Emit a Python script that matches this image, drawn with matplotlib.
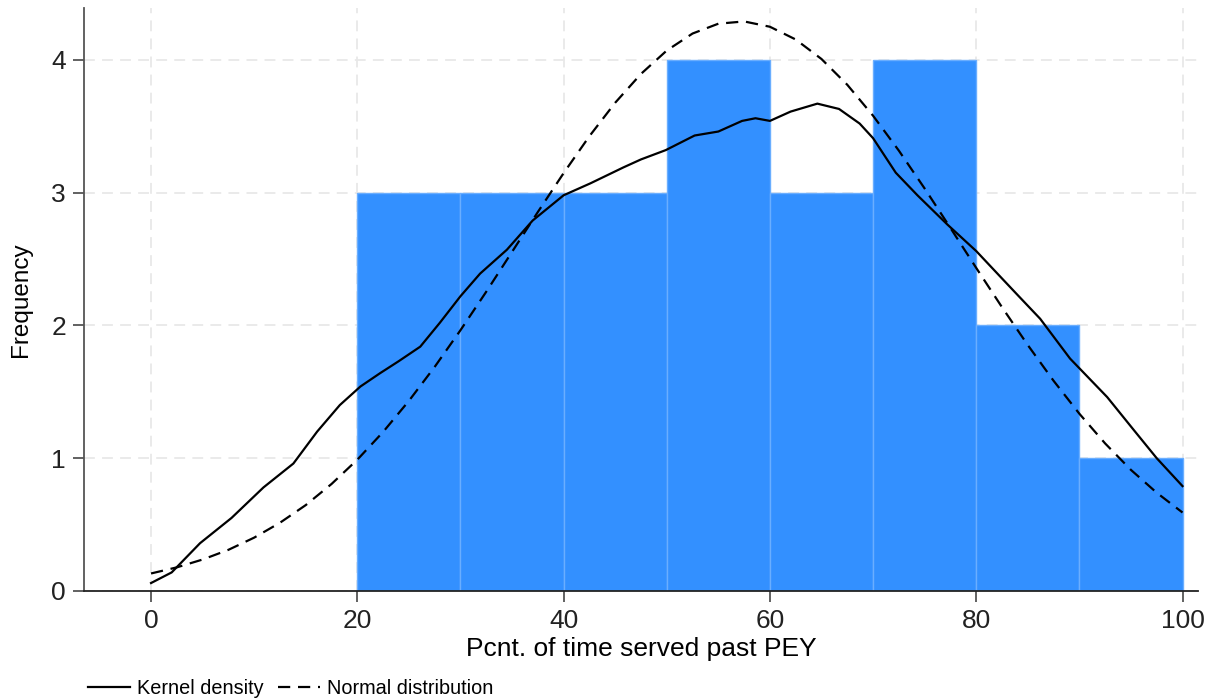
import matplotlib
matplotlib.use("Agg")
import matplotlib.pyplot as plt

plt.rcParams['font.family'] = ['Liberation Sans', 'DejaVu Sans']

# histogram bins (left edges) and frequencies
bin_left = [20, 30, 40, 50, 60, 70, 80, 90]
freq = [3, 3, 3, 4, 3, 4, 2, 1]
bin_width = 10

# kernel density (scaled to frequency)
kd_x = [0, 2, 4.75, 7.8, 10.9, 13.8, 16.1, 18.3, 20.3, 22.2, 24, 26.1, 28, 30,
        31.9, 34.5, 37, 40, 42.6, 45.8, 47.5, 49.9, 52.7, 55, 57.3, 58.6, 60,
        62, 64.6, 66.7, 68.7, 70, 72.2, 74.3, 77.2, 80, 82.3, 84, 86.2, 89.1,
        92.7, 95.3, 97.5, 100]
kd_y = [0.06, 0.14, 0.36, 0.55, 0.78, 0.96, 1.2, 1.40, 1.54, 1.64, 1.73, 1.84,
        2.02, 2.22, 2.39, 2.57, 2.79, 2.98, 3.07, 3.19, 3.25, 3.32, 3.43, 3.46,
        3.54, 3.56, 3.54, 3.61, 3.67, 3.63, 3.52, 3.41, 3.15, 2.98, 2.76, 2.56,
        2.37, 2.23, 2.05, 1.75, 1.46, 1.21, 1.0, 0.79]

# normal curve values (scaled to frequency)
nd_x = [0, 2.5, 5, 7.5, 10, 12.5, 15, 17.5, 20, 22.5, 25, 27.5, 30, 32.5, 35,
        37.5, 40, 42.5, 45, 47.5, 50, 52.5, 55, 57.5, 60, 62.5, 65, 67.5, 70,
        72.5, 75, 77.5, 80, 82.5, 85, 87.5, 90, 92.5, 95, 97.5, 100]
nd_y = [0.132, 0.178, 0.237, 0.310, 0.402, 0.514, 0.647, 0.806, 0.989, 1.198,
        1.432, 1.688, 1.964, 2.254, 2.554, 2.854, 3.147, 3.425, 3.677, 3.894,
        4.070, 4.198, 4.272, 4.289, 4.249, 4.153, 4.006, 3.812, 3.579, 3.316,
        3.031, 2.734, 2.433, 2.137, 1.852, 1.583, 1.335, 1.111, 0.912, 0.740,
        0.591]

xticks = [0, 20, 40, 60, 80, 100]
yticks = [0, 1, 2, 3, 4]

fig = plt.figure(figsize=(12.14, 6.98), dpi=100)
ax = fig.add_axes([0.0692, 0.1533, 0.9176, 0.8352])

ax.bar(bin_left, freq, width=bin_width, align='edge', color='#3390ff',
       edgecolor='#6aaeff', linewidth=1, zorder=2)
ax.plot(kd_x, kd_y, color='black', lw=1.6, zorder=3, label='Kernel density')
ax.plot(nd_x, nd_y, color='black', lw=1.6, ls=(0, (5.5, 3.5)), zorder=3,
        label='Normal distribution')

ax.set_xlim(-6.5, 101.5)
ax.set_ylim(0, 4.39)
ax.set_xticks(xticks)
ax.set_yticks(yticks)
ax.grid(True, color='#e8e8e8', ls=(0, (6, 4)), lw=1.3, zorder=0)
ax.set_axisbelow(True)

for s in ['top', 'right']:
    ax.spines[s].set_visible(False)
ax.spines['left'].set_color('#555555')
ax.spines['bottom'].set_color('#222222')
ax.spines['left'].set_linewidth(1.3)
ax.spines['bottom'].set_linewidth(1.3)
ax.tick_params(axis='both', direction='out', length=8, width=1.3,
               labelsize=19, colors='#555555', labelcolor='#222222')
ax.tick_params(axis='x', pad=5)
ax.tick_params(axis='y', pad=5)

ax.set_xlabel('Pcnt. of time served past PEY', fontsize=19, labelpad=3)
ax.set_ylabel('Frequency', fontsize=17.5, labelpad=14)

fig.legend(loc='center left', bbox_to_anchor=(0.0725, 0.013), ncol=2,
           frameon=False, fontsize=14.3, handlelength=2.1, handletextpad=0.35,
           columnspacing=0.75, borderpad=0, borderaxespad=0)

fig.savefig('out.png', dpi=100)
